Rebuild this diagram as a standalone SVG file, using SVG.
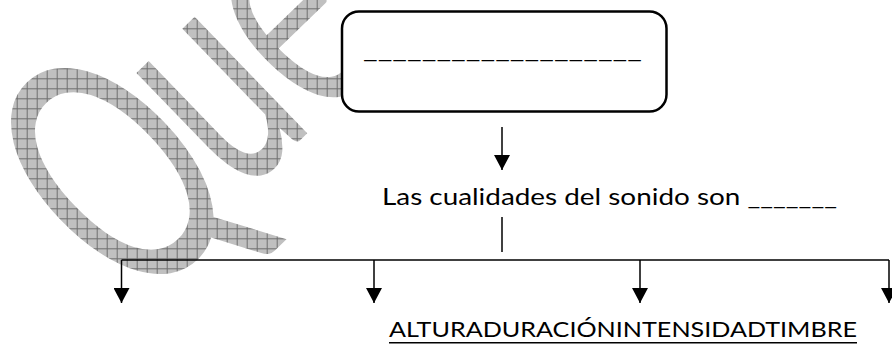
<svg xmlns="http://www.w3.org/2000/svg" width="892" height="347" viewBox="0 0 892 347">
<style>
.ln{stroke:#000;stroke-width:1.5;fill:none}
.arr{marker-end:url(#ah)}
.t{font-family:Lato,"Liberation Sans",sans-serif;fill:#000}
</style>
<defs>
<marker id="ah" viewBox="0 0 15 16" markerWidth="15" markerHeight="16" refX="15" refY="8" orient="auto" markerUnits="userSpaceOnUse">
<path d="M0,0 L15,8 L0,16 z" fill="#000"/>
</marker>
<pattern id="grid" patternUnits="userSpaceOnUse" x="6.7" y="8.3" width="10" height="10">
<rect width="10" height="10" fill="#c0c0c0"/>
<path d="M0,0.5 H10 M0.5,0 V10" stroke="#6e6e6e" stroke-width="1"/>
</pattern>
<mask id="wm" maskUnits="userSpaceOnUse" x="0" y="0" width="892" height="347">
<text x="0" y="0" transform="translate(129.5,305) rotate(-44) scale(0.6,1)" font-family="Lato,'Liberation Sans',sans-serif" font-size="320" fill="#fff"><tspan font-size="336" dy="12">Q</tspan><tspan dx="-13" dy="-12">ue</tspan></text>
</mask>
</defs>
<g id="watermark">
<rect x="0" y="0" width="892" height="347" fill="url(#grid)" mask="url(#wm)"/>
</g>
<g id="connectors">
<line class="ln arr" x1="502" y1="127" x2="502" y2="170"/>
<line class="ln" x1="502" y1="217" x2="502" y2="252"/>
<line class="ln" x1="121.5" y1="260" x2="889" y2="260"/>
<line class="ln arr" x1="121.5" y1="260" x2="121.5" y2="303"/>
<line class="ln arr" x1="374" y1="260" x2="374" y2="303"/>
<line class="ln arr" x1="640" y1="260" x2="640" y2="303"/>
<line class="ln arr" x1="889" y1="260" x2="889" y2="303"/>
</g>
<g id="node-top">
<rect x="342" y="11.5" width="324.5" height="100" rx="17" ry="17" fill="#fff" stroke="#000" stroke-width="2.5"/>
<text class="t" x="363" y="58" font-size="24" textLength="279" lengthAdjust="spacingAndGlyphs">___________________</text>
</g>
<g id="node-text">
<text class="t" x="382" y="205" font-size="23.5" textLength="455" lengthAdjust="spacingAndGlyphs">Las cualidades del sonido son _______</text>
</g>
<g id="node-answers">
<text class="t" x="389" y="337.3" font-size="20.5" textLength="468" lengthAdjust="spacingAndGlyphs">ALTURADURACIÓNINTENSIDADTIMBRE</text>
<line x1="389" y1="342.7" x2="857" y2="342.7" stroke="#000" stroke-width="1.5"/>
</g>
</svg>
